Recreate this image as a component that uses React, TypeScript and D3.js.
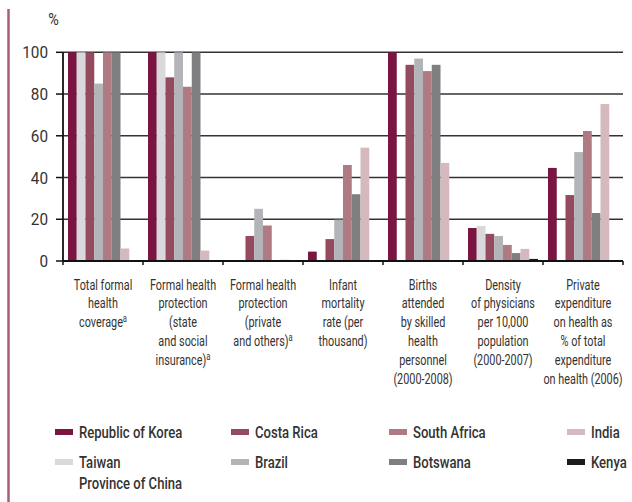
import React from "react";
import * as d3 from "d3";

const categories = [
  ["Total formal", "health", "coverage^a"],
  ["Formal health", "protection", "(state", "and social", "insurance)^a"],
  ["Formal health", "protection", "(private", "and others)^a"],
  ["Infant", "mortality", "rate (per", "thousand)"],
  ["Births", "attended", "by skilled", "health", "personnel", "(2000-2008)"],
  ["Density", "of physicians", "per 10,000", "population", "(2000-2007)"],
  ["Private", "expenditure", "on health as", "% of total", "expenditure", "on health (2006)"],
];

const seriesNames = [
  "Republic of Korea",
  "Taiwan Province of China",
  "Costa Rica",
  "Brazil",
  "South Africa",
  "Botswana",
  "India",
  "Kenya",
];

const korea = [100, 100, 0, 4.5, 100, 15.8, 44.6];
const taiwan = [100, 100, 0, 0, 0, 16.8, 0];
const costaRica = [100, 88, 12, 10.5, 94, 13, 31.6];
const brazil = [85, 100, 25, 19.8, 97, 12, 52.2];
const southAfrica = [100, 83.5, 17, 46, 91, 7.7, 62.3];
const botswana = [100, 100, 0, 32, 94, 3.8, 23];
const india = [6, 5, 0.6, 54.3, 47, 5.8, 75.2];
const kenya = [0, 0, 0, 0, 0, 1, 0];

const seriesValues = [korea, taiwan, costaRica, brazil, southAfrica, botswana, india, kenya];
const colors = ["#7a1440", "#d9d9db", "#944a5f", "#b3b4b8", "#b07a82", "#7f7f81", "#d6b9bd", "#1f1a1b"];
const yTicks = [0, 20, 40, 60, 80, 100];

const FONT = "Roboto, 'DejaVu Sans', sans-serif";
const TEXT = "#333333";

function Line({ text, x, y, size, sx }: { text: string; x: number; y: number; size: number; sx: number }) {
  const parts = text.split("^");
  return (
    <g transform={`translate(${x},${y}) scale(${sx},1)`}>
      <text textAnchor="middle" fontFamily={FONT} fontSize={size} fill={TEXT}>
        {parts[0]}
        {parts[1] ? (
          <tspan fontSize={size * 0.7} dy={-5}>
            {parts[1]}
          </tspan>
        ) : null}
      </text>
    </g>
  );
}

export default function App() {
  const W = 632;
  const H = 502;
  const x0 = 63;
  const x1 = 623;
  const yTop = 52.3;
  const yBot = 261;

  const xBand = d3.scaleBand<number>().domain(d3.range(categories.length)).range([x0, x1]).paddingInner(0).paddingOuter(0);
  const inner = d3
    .scaleBand<number>()
    .domain(d3.range(seriesNames.length))
    .range([5, xBand.bandwidth() - 5])
    .padding(0);
  const y = d3.scaleLinear().domain([0, 100]).range([yBot, yTop]);

  const legendCols = [55, 231, 389, 567];
  const legendRows = [432, 462];

  return (
    <svg width={W} height={H} style={{ position: "absolute", left: 0, top: 0, background: "#fff" }}>
      <rect x={0} y={0} width={W} height={H} fill="#fff" />
      <line x1={8.5} x2={8.5} y1={9} y2={H} stroke="#aa5c7c" strokeWidth={2.5} />

      {yTicks.filter((t) => t > 0).map((t) => (
        <line key={t} x1={x0} x2={x1} y1={y(t)} y2={y(t)} stroke="#333" strokeWidth={1.4} />
      ))}

      {categories.map((_, ci) => (
        <g key={ci} transform={`translate(${xBand(ci)},0)`}>
          {seriesValues.map((vals, si) =>
            vals[ci] > 0 ? (
              <rect
                key={si}
                x={inner(si)}
                y={y(vals[ci])}
                width={inner.bandwidth()}
                height={y(0) - y(vals[ci])}
                fill={colors[si]}
              />
            ) : null
          )}
        </g>
      ))}

      <line x1={x0} x2={x0} y1={yTop} y2={yBot + 1} stroke="#111" strokeWidth={1.8} />
      {yTicks.map((t) => (
        <g key={t}>
          <line x1={x0 - 7} x2={x0} y1={y(t)} y2={y(t)} stroke="#111" strokeWidth={1.5} />
          <g transform={`translate(${x0 - 15},${y(t) + 6}) scale(0.9,1)`}>
            <text textAnchor="end" fontFamily={FONT} fontSize={17} fill={TEXT}>
              {t}
            </text>
          </g>
        </g>
      ))}
      <g transform={`translate(53.5,25) scale(0.9,1)`}>
        <text textAnchor="middle" fontFamily={FONT} fontSize={16} fill={TEXT}>
          %
        </text>
      </g>

      <line x1={x0} x2={x1} y1={yBot} y2={yBot} stroke="#111" strokeWidth={2} />
      {d3.range(categories.length + 1).map((i) => {
        const xx = i < categories.length ? (xBand(i) as number) : x1;
        return <line key={i} x1={xx} x2={xx} y1={yBot} y2={yBot + 4} stroke="#111" strokeWidth={1.5} />;
      })}

      {categories.map((lines, ci) => {
        const cx = (xBand(ci) as number) + xBand.bandwidth() / 2;
        return lines.map((ln, li) => (
          <Line key={ci + "-" + li} text={ln} x={cx} y={289.5 + li * 18.8} size={15.5} sx={0.7} />
        ));
      })}

      {seriesNames.map((name, si) => {
        const col = Math.floor(si / 2);
        const row = si % 2;
        const lx = legendCols[col];
        const ly = legendRows[row];
        const lines = name === "Taiwan Province of China" ? ["Taiwan", "Province of China"] : [name];
        return (
          <g key={si}>
            <rect x={lx} y={ly - 3} width={18} height={6} fill={colors[si]} />
            {lines.map((ln, li) => (
              <g key={li} transform={`translate(${lx + 24},${ly + 6 + li * 21}) scale(0.77,1)`}>
                <text fontFamily={FONT} fontSize={17} fontWeight={500} fill={TEXT}>
                  {ln}
                </text>
              </g>
            ))}
          </g>
        );
      })}
    </svg>
  );
}
